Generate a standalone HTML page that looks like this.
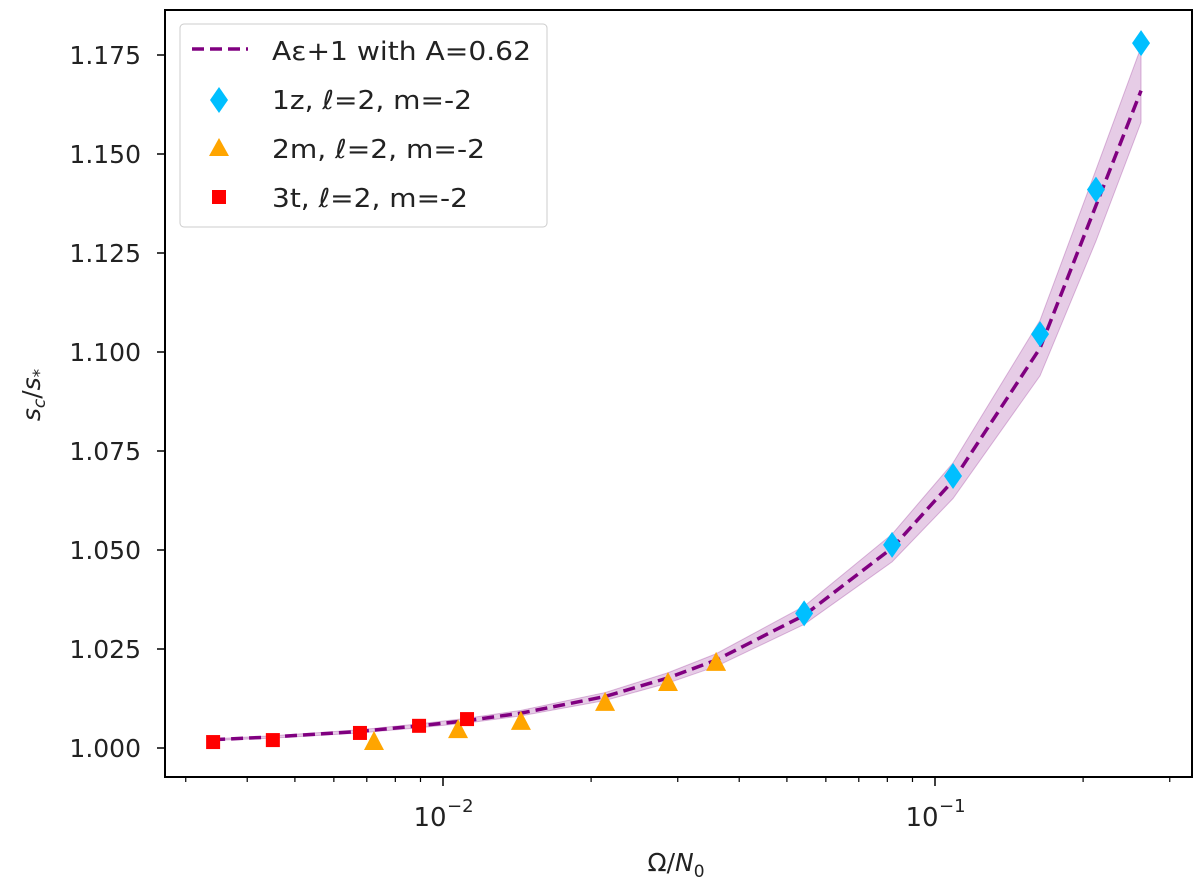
<!DOCTYPE html>
<html><head><meta charset="utf-8"><style>
body{margin:0;background:#fff}
svg{display:block;font-family:"DejaVu Sans","Liberation Sans",sans-serif}
</style></head><body>
<svg id="chart" width="1200" height="887">
<g id="plot"></g>
</svg>
<script>
const curveX=[0.00341,0.00451,0.00678,0.00894,0.01119,0.0144,0.02135,0.02866,0.0359,0.0542,0.0818,0.1088,0.1635,0.2124,0.2623];
const curveY=[1.0021,1.0028,1.0042,1.0056,1.0069,1.0088,1.0130,1.0177,1.0222,1.0335,1.0505,1.0675,1.101,1.137,1.166];
const bandHi=[1.0023,1.0031,1.0046,1.0061,1.0075,1.0095,1.0140,1.0190,1.0238,1.0358,1.0540,1.0720,1.108,1.146,1.177];
const bandLo=[1.0019,1.0025,1.0038,1.0051,1.0063,1.0081,1.0120,1.0164,1.0206,1.0312,1.0470,1.0630,1.094,1.128,1.158];
const diamondX=[0.0542,0.0818,0.1088,0.1635,0.2124,0.2623];
const diamondY=[1.034,1.0513,1.0687,1.1045,1.141,1.178];
const triX=[0.00724,0.01073,0.0144,0.02135,0.02866,0.0359];
const triY=[1.0015,1.0045,1.0066,1.0114,1.0164,1.0215];
const sqX=[0.00341,0.00451,0.00678,0.00894,0.01119];
const sqY=[1.0015,1.002,1.0038,1.0056,1.0073];
const yTicks=[1.000,1.025,1.050,1.075,1.100,1.125,1.150,1.175];
const xMajor=[0.01,0.1];
const xMajorLabels=["−2","−1"];
const xMinor=[0.003,0.004,0.005,0.006,0.007,0.008,0.009,0.02,0.03,0.04,0.05,0.06,0.07,0.08,0.09,0.2,0.3];

const L=165,R=1192,T=10,B=777;
const X=v=>443+492*Math.log10(v/0.01);
const Y=v=>748-(v-1)*3960;
const NS="http://www.w3.org/2000/svg";
const g=document.getElementById('plot');
function mk(tag,attrs,parent){const e=document.createElementNS(NS,tag);for(const k in attrs)e.setAttribute(k,attrs[k]);(parent||g).appendChild(e);return e;}

let d="M"+curveX.map((x,i)=>X(x)+","+Y(bandHi[i])).join(" L");
for(let i=curveX.length-1;i>=0;i--)d+=" L"+X(curveX[i])+","+Y(bandLo[i]);
let band=mk('path',{d:d+"Z",fill:"#800080","fill-opacity":"0.2",stroke:"#800080","stroke-opacity":"0.25"});


let line=mk('polyline',{points:curveX.map((x,i)=>X(x)+","+Y(curveY[i])).join(" "),fill:"none",stroke:"#800080","stroke-width":"3.5","stroke-dasharray":"12,6"});



triX.forEach((x,i)=>{const cx=X(x),cy=Y(triY[i]);
 const p=mk('polygon',{points:`${cx},${cy-11} ${cx-10},${cy+8} ${cx+10},${cy+8}`,fill:"#FFA500"});
 
 });
sqX.forEach((x,i)=>{const cx=X(x),cy=Y(sqY[i]);
 const p=mk('rect',{x:cx-7,y:cy-7,width:14,height:14,fill:"#FF0000"});
 
 });
diamondX.forEach((x,i)=>{const cx=X(x),cy=Y(diamondY[i]);
 const p=mk('polygon',{points:`${cx},${cy-13} ${cx+9},${cy} ${cx},${cy+13} ${cx-9},${cy}`,fill:"#00BFFF"});
 
 });

const frame=mk('rect',{x:L,y:T,width:R-L,height:B-T,fill:"none",stroke:"#000","stroke-width":"2"});


yTicks.forEach(v=>{const y=Y(v);
 mk('line',{x1:L-8,x2:L,y1:y,y2:y,stroke:"#000","stroke-width":"1.5"});
 const t=mk('text',{x:L-24,y:y+9,"text-anchor":"end","font-size":"25",fill:"#222"});
 t.textContent=v.toFixed(3);
 
 });
xMinor.forEach(v=>{const x=X(v);mk('line',{x1:x,x2:x,y1:B,y2:B+5,stroke:"#000","stroke-width":"1.2"});});
xMajor.forEach((v,i)=>{const x=X(v);
 mk('line',{x1:x,x2:x,y1:B,y2:B+9,stroke:"#000","stroke-width":"1.5"});
 const t=mk('text',{x:x-13,y:B+49,"text-anchor":"middle","font-size":"26",fill:"#222"});
 t.textContent="10";
 
 
 const s=mk('text',{x:x+4,y:B+35,"text-anchor":"start","font-size":"18",fill:"#222"});
 s.textContent=xMajorLabels[i];});
const xl=mk('text',{x:676,y:871,"text-anchor":"middle","font-size":"25",fill:"#222"});
xl.innerHTML='Ω/<tspan font-style="italic">N</tspan><tspan font-size="17" dy="6">0</tspan>';


const yl=mk('text',{transform:"translate(40,395) rotate(-90)","text-anchor":"middle","font-size":"25",fill:"#222"});
yl.innerHTML='<tspan font-style="italic">s</tspan><tspan font-size="17" dy="5" font-style="italic">c</tspan><tspan dy="-5">/</tspan><tspan font-style="italic">s</tspan><tspan font-size="17" dy="5">*</tspan>';



const lg=mk('g',{});


mk('rect',{x:180,y:24,width:367,height:203,rx:4,fill:"#fff","fill-opacity":"0.8",stroke:"#ccc"},lg);
mk('line',{x1:192,x2:248,y1:49,y2:49,stroke:"#800080","stroke-width":"3.5","stroke-dasharray":"12,6"},lg);
mk('polygon',{points:"219,87 228,100 219,113 210,100",fill:"#00BFFF"},lg);
mk('polygon',{points:"219,138 229,156 209,156",fill:"#FFA500"},lg);
mk('rect',{x:212,y:190,width:14,height:14,fill:"#FF0000"},lg);
const labels=['Aε+1 with A=0.62','1z, <tspan font-style="italic">ℓ</tspan>=2, m=-2','2m, <tspan font-style="italic">ℓ</tspan>=2, m=-2','3t, <tspan font-style="italic">ℓ</tspan>=2, m=-2'];
const lw=[259,200,213,196];
const ly=[60,109,158,207];
labels.forEach((s,i)=>{const t=mk('text',{x:272,y:ly[i],"font-size":"26",fill:"#222",textLength:lw[i],lengthAdjust:"spacingAndGlyphs"},lg);
 t.innerHTML=s;
 
 });
</script>
</body></html>
